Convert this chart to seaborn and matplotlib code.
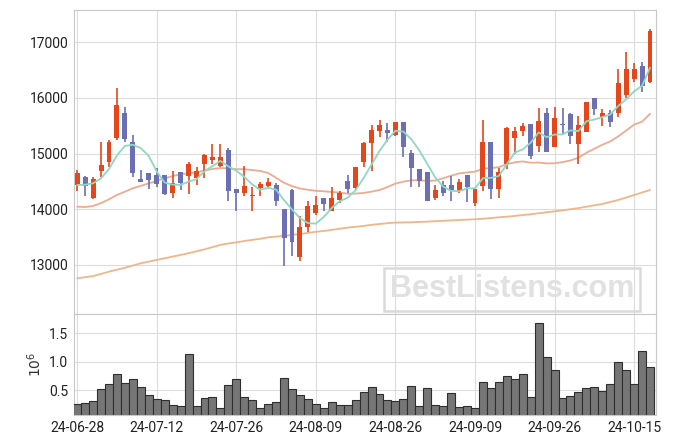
import numpy as np
import pandas as pd
import matplotlib
matplotlib.use("Agg")
import matplotlib.pyplot as plt
import seaborn as sns

# ---- data ----
tick_labels = ["24-06-28", "24-07-12", "24-07-26", "24-08-09",
               "24-08-26", "24-09-09", "24-09-26", "24-10-15"]

opens = [14440, 14580, 14210, 14690, 14850, 15280, 15730, 15210, 14540, 14650,
         14610, 14610, 14290, 14660, 14600, 14560, 14810, 14880, 14780, 15060,
         14360, 14300, 14230, 14380, 14420, 14440, 14000, 14350, 13150, 13680,
         13930, 14210, 13960, 14170, 14510, 14380, 14840, 15190, 15410, 15420,
         15340, 15560, 15010, 14720, 14660, 14210, 14440, 14440, 14320, 14610,
         14120, 14420, 15200, 14360, 14810, 15270, 15410, 15530, 15140, 15720,
         15120, 15530, 15700, 15170, 15390, 15990, 15660, 15720, 15730, 16050,
         16340, 16570, 16290]
highs = [14700, 14600, 14570, 15200, 15240, 16170, 15830, 15340, 14700, 14650,
         14740, 14610, 14690, 14660, 14840, 14750, 15000, 15170, 15170, 15090,
         14360, 14780, 14390, 14490, 14560, 14470, 14000, 14360, 13880, 14150,
         14230, 14210, 14390, 14320, 14610, 14760, 15200, 15510, 15610, 15540,
         15570, 15560, 15060, 14720, 14660, 14440, 14510, 14600, 14540, 14610,
         14380, 15610, 15200, 14740, 15480, 15480, 15540, 15530, 15810, 15810,
         15830, 15810, 15730, 15670, 15930, 16000, 15790, 15780, 16510, 16820,
         16620, 16650, 17230]
lows = [14320, 14230, 14180, 14570, 14760, 15240, 15210, 14570, 14490, 14360,
        14400, 14260, 14200, 14350, 14270, 14440, 14560, 14810, 14760, 14140,
        13960, 14230, 13960, 14230, 14380, 14050, 12980, 13160, 13080, 13590,
        13900, 13970, 13960, 14110, 14290, 14350, 14750, 14690, 15300, 15200,
        15310, 14930, 14390, 14400, 14140, 14170, 14240, 14140, 14290, 14130,
        14050, 14320, 14180, 14210, 14720, 14990, 15310, 14910, 15030, 15030,
        15120, 15340, 15170, 14820, 15380, 15690, 15490, 15480, 15660, 15990,
        16290, 16110, 16260]
closes = [14650, 14420, 14540, 14790, 15210, 15870, 15260, 14650, 14490, 14520,
          14460, 14270, 14470, 14470, 14810, 14690, 14970, 14930, 14930, 14320,
          14300, 14420, 14260, 14450, 14490, 14140, 13480, 13420, 13680, 14050,
          14080, 14090, 14210, 14290, 14370, 14750, 15180, 15420, 15510, 15360,
          15560, 15110, 14740, 14510, 14150, 14350, 14290, 14350, 14480, 14400,
          14360, 15200, 14360, 14660, 15450, 15400, 15490, 14960, 15580, 15030,
          15630, 15510, 15320, 15510, 15920, 15790, 15720, 15560, 16270, 16520,
          16520, 16220, 17190]
volumes_m = [0.254, 0.272, 0.313, 0.518, 0.605, 0.787, 0.623, 0.693, 0.553, 0.412,
             0.342, 0.325, 0.237, 0.219, 1.132, 0.219, 0.360, 0.377, 0.184, 0.588,
             0.693, 0.377, 0.325, 0.184, 0.254, 0.289, 0.711, 0.518, 0.412, 0.342,
             0.254, 0.184, 0.289, 0.237, 0.237, 0.325, 0.465, 0.553, 0.430, 0.325,
             0.307, 0.342, 0.570, 0.219, 0.535, 0.237, 0.219, 0.447, 0.202, 0.219,
             0.184, 0.640, 0.535, 0.640, 0.746, 0.693, 0.781, 0.377, 1.675, 1.079,
             0.851, 0.360, 0.395, 0.465, 0.535, 0.553, 0.482, 0.605, 0.991, 0.851,
             0.605, 1.184, 0.904]
ma_short = [14435, 14440, 14465, 14555, 14722, 14967, 15136, 15156, 15096, 14957,
            14675, 14478, 14442, 14436, 14495, 14540, 14680, 14774, 14867, 14768,
            14691, 14580, 14445, 14349, 14385, 14351, 14163, 13996, 13840, 13752,
            13741, 13863, 14022, 14144, 14207, 14342, 14561, 14802, 15047, 15246,
            15407, 15393, 15256, 15056, 14814, 14571, 14406, 14328, 14323, 14373,
            14375, 14558, 14561, 14597, 14806, 15016, 15074, 15193, 15377, 15293,
            15339, 15343, 15415, 15401, 15578, 15610, 15652, 15700, 15852, 15972,
            16116, 16215, 16541]
ma_mid = [14046, 14040, 14058, 14110, 14178, 14256, 14315, 14376, 14420, 14465,
          14510, 14555, 14595, 14627, 14645, 14663, 14695, 14722, 14740, 14735,
          14718, 14718, 14704, 14687, 14651, 14564, 14475, 14414, 14373, 14350,
          14331, 14322, 14309, 14300, 14278, 14281, 14292, 14316, 14345, 14398,
          14460, 14495, 14519, 14522, 14505, 14515, 14556, 14602, 14642, 14660,
          14674, 14730, 14737, 14756, 14810, 14842, 14858, 14835, 14838, 14822,
          14825, 14845, 14875, 14924, 15013, 15085, 15157, 15218, 15307, 15412,
          15520, 15571, 15712]
ma_long = [12760, 12780, 12800, 12840, 12880, 12915, 12950, 12990, 13030, 13060,
           13090, 13120, 13150, 13180, 13210, 13245, 13280, 13320, 13360, 13385,
           13405, 13430, 13450, 13470, 13495, 13510, 13520, 13540, 13555, 13575,
           13595, 13610, 13630, 13650, 13670, 13685, 13700, 13720, 13735, 13750,
           13760, 13763, 13766, 13772, 13777, 13785, 13792, 13800, 13807, 13813,
           13820, 13830, 13842, 13855, 13866, 13880, 13895, 13910, 13927, 13945,
           13962, 13980, 14000, 14020, 14045, 14070, 14094, 14130, 14166, 14210,
           14256, 14300, 14345]

# ---- styling ----
sns.set_theme(style="white")
plt.rcParams["font.family"] = ["Roboto", "DejaVu Sans"]

UP = "#E5461B"
DOWN = "#6B6FB3"
GRID = "#dcdcdc"
SPINE = "#c8c8c8"

n = len(closes)
idx = np.arange(n)
df = pd.DataFrame({"i": idx, "open": opens, "high": highs, "low": lows,
                   "close": closes, "vol": volumes_m,
                   "ma_s": ma_short, "ma_m": ma_mid, "ma_l": ma_long})
df["up"] = df["close"] >= df["open"]

fig = plt.figure(figsize=(6.75, 4.44), dpi=100)
L, W = 74 / 675, 582 / 675
ax = fig.add_axes([L, 1 - 314 / 444, W, 304 / 444])
axv = fig.add_axes([L, 1 - 415 / 444, W, 101 / 444])

# candles
colors = np.where(df["up"], UP, DOWN)
ax.vlines(df["i"], df["low"], df["high"], colors=colors, linewidth=1.2, zorder=3)
body_low = np.minimum(df["open"], df["close"])
body_h = np.maximum(np.abs(df["close"] - df["open"]), 15)
ax.bar(df["i"], body_h, bottom=body_low, width=0.62, color=colors,
       linewidth=0, zorder=4)

# moving averages
sns.lineplot(data=df, x="i", y="ma_s", ax=ax, color="#8fd8c3", linewidth=1.3, zorder=5)
sns.lineplot(data=df, x="i", y="ma_m", ax=ax, color="#efaa92", linewidth=1.3, zorder=2)
sns.lineplot(data=df, x="i", y="ma_l", ax=ax, color="#f0b589", linewidth=1.3, zorder=2)

ax.set_xlim(-0.4, 72.75)
ax.set_ylim(12120, 17575)
ax.set_yticks([13000, 14000, 15000, 16000, 17000])
tick_pos = list(range(0, n, 10))
ax.set_xticks(tick_pos)
ax.set_xticklabels([])
ax.set_xlabel("")
ax.set_ylabel("")

# volume
sns.barplot(data=df, x="i", y="vol", ax=axv, color="#767676", width=1.0,
            edgecolor="#2e2e2e", linewidth=0.8, saturation=1, zorder=3)
axv.set_xlim(-0.4, 72.75)
axv.set_ylim(0.065, 1.84)
axv.set_yticks([0.5, 1.0, 1.5])
axv.set_xticks(tick_pos)
axv.set_xticklabels(tick_labels)
axv.set_xlabel("")
axv.set_ylabel(r"$10^6$", fontsize=10, color="#333333", labelpad=4)

for a in (ax, axv):
    a.grid(True, color=GRID, linewidth=0.8)
    a.set_axisbelow(True)
    for s in a.spines.values():
        s.set_color(SPINE)
        s.set_linewidth(0.8)
    a.tick_params(axis="both", length=0, labelsize=10, colors="#222222", pad=4)

# watermark
ax.text(0.7526, 0.0806, "BestListens.com", transform=ax.transAxes,
        ha="center", va="center", fontsize=22, fontweight="bold",
        family="Liberation Sans", color="#e1e1e1", zorder=1,
        bbox=dict(boxstyle="square,pad=0.2", facecolor="none",
                  edgecolor="#dadada", linewidth=1.8))

fig.savefig("out.png", dpi=100, facecolor="white")
